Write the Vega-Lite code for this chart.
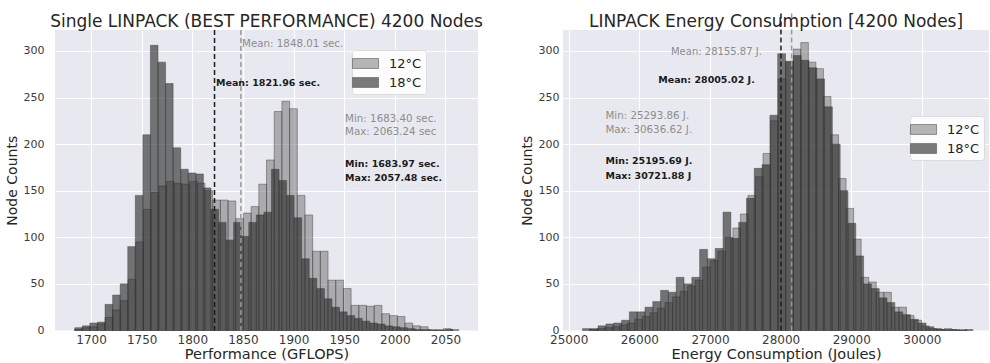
{
  "$schema": "https://vega.github.io/schema/vega-lite/v6.json",
  "background": "white",
  "padding": {"left": 5, "top": 10, "right": 0, "bottom": 0},
  "datasets": {
    "perf": [
      {"t":"12°C","a":1683.40,"b":1691.00,"n":1},{"t":"12°C","a":1691.00,"b":1698.59,"n":3},{"t":"12°C","a":1698.59,"b":1706.19,"n":4},{"t":"12°C","a":1706.19,"b":1713.79,"n":7},{"t":"12°C","a":1713.79,"b":1721.38,"n":14},
      {"t":"12°C","a":1721.38,"b":1728.98,"n":22},{"t":"12°C","a":1728.98,"b":1736.58,"n":32},{"t":"12°C","a":1736.58,"b":1744.17,"n":55},{"t":"12°C","a":1744.17,"b":1751.77,"n":95},{"t":"12°C","a":1751.77,"b":1759.37,"n":130},
      {"t":"12°C","a":1759.37,"b":1766.96,"n":148},{"t":"12°C","a":1766.96,"b":1774.56,"n":155},{"t":"12°C","a":1774.56,"b":1782.16,"n":160},{"t":"12°C","a":1782.16,"b":1789.76,"n":158},{"t":"12°C","a":1789.76,"b":1797.35,"n":157},
      {"t":"12°C","a":1797.35,"b":1804.95,"n":160},{"t":"12°C","a":1804.95,"b":1812.55,"n":158},{"t":"12°C","a":1812.55,"b":1820.14,"n":150},{"t":"12°C","a":1820.14,"b":1827.74,"n":140},{"t":"12°C","a":1827.74,"b":1835.34,"n":140},
      {"t":"12°C","a":1835.34,"b":1842.93,"n":139},{"t":"12°C","a":1842.93,"b":1850.53,"n":120},{"t":"12°C","a":1850.53,"b":1858.13,"n":126},{"t":"12°C","a":1858.13,"b":1865.72,"n":133},{"t":"12°C","a":1865.72,"b":1873.32,"n":157},
      {"t":"12°C","a":1873.32,"b":1880.92,"n":183},{"t":"12°C","a":1880.92,"b":1888.51,"n":235},{"t":"12°C","a":1888.51,"b":1896.11,"n":246},{"t":"12°C","a":1896.11,"b":1903.71,"n":238},{"t":"12°C","a":1903.71,"b":1911.30,"n":145},
      {"t":"12°C","a":1911.30,"b":1918.90,"n":124},{"t":"12°C","a":1918.90,"b":1926.50,"n":85},{"t":"12°C","a":1926.50,"b":1934.09,"n":85},{"t":"12°C","a":1934.09,"b":1941.69,"n":54},{"t":"12°C","a":1941.69,"b":1949.29,"n":54},
      {"t":"12°C","a":1949.29,"b":1956.88,"n":45},{"t":"12°C","a":1956.88,"b":1964.48,"n":27},{"t":"12°C","a":1964.48,"b":1972.08,"n":27},{"t":"12°C","a":1972.08,"b":1979.68,"n":26},{"t":"12°C","a":1979.68,"b":1987.27,"n":27},
      {"t":"12°C","a":1987.27,"b":1994.87,"n":18},{"t":"12°C","a":1994.87,"b":2002.47,"n":16},{"t":"12°C","a":2002.47,"b":2010.06,"n":15},{"t":"12°C","a":2010.06,"b":2017.66,"n":8},{"t":"12°C","a":2017.66,"b":2025.26,"n":5},
      {"t":"12°C","a":2025.26,"b":2032.85,"n":4},{"t":"12°C","a":2032.85,"b":2040.45,"n":1},{"t":"12°C","a":2040.45,"b":2048.05,"n":1},{"t":"12°C","a":2048.05,"b":2055.64,"n":2},{"t":"12°C","a":2055.64,"b":2063.24,"n":1},
      {"t":"18°C","a":1683.97,"b":1691.44,"n":3},{"t":"18°C","a":1691.44,"b":1698.91,"n":5},{"t":"18°C","a":1698.91,"b":1706.38,"n":8},{"t":"18°C","a":1706.38,"b":1713.85,"n":9},{"t":"18°C","a":1713.85,"b":1721.32,"n":28},
      {"t":"18°C","a":1721.32,"b":1728.79,"n":38},{"t":"18°C","a":1728.79,"b":1736.26,"n":50},{"t":"18°C","a":1736.26,"b":1743.73,"n":90},{"t":"18°C","a":1743.73,"b":1751.20,"n":145},{"t":"18°C","a":1751.20,"b":1758.67,"n":210},
      {"t":"18°C","a":1758.67,"b":1766.14,"n":306},{"t":"18°C","a":1766.14,"b":1773.61,"n":288},{"t":"18°C","a":1773.61,"b":1781.08,"n":265},{"t":"18°C","a":1781.08,"b":1788.55,"n":196},{"t":"18°C","a":1788.55,"b":1796.02,"n":173},
      {"t":"18°C","a":1796.02,"b":1803.49,"n":169},{"t":"18°C","a":1803.49,"b":1810.96,"n":168},{"t":"18°C","a":1810.96,"b":1818.43,"n":153},{"t":"18°C","a":1818.43,"b":1825.90,"n":130},{"t":"18°C","a":1825.90,"b":1833.37,"n":116},
      {"t":"18°C","a":1833.37,"b":1840.84,"n":97},{"t":"18°C","a":1840.84,"b":1848.31,"n":116},{"t":"18°C","a":1848.31,"b":1855.78,"n":101},{"t":"18°C","a":1855.78,"b":1863.25,"n":116},{"t":"18°C","a":1863.25,"b":1870.73,"n":124},
      {"t":"18°C","a":1870.73,"b":1878.20,"n":127},{"t":"18°C","a":1878.20,"b":1885.67,"n":173},{"t":"18°C","a":1885.67,"b":1893.14,"n":161},{"t":"18°C","a":1893.14,"b":1900.61,"n":145},{"t":"18°C","a":1900.61,"b":1908.08,"n":121},
      {"t":"18°C","a":1908.08,"b":1915.55,"n":77},{"t":"18°C","a":1915.55,"b":1923.02,"n":56},{"t":"18°C","a":1923.02,"b":1930.49,"n":45},{"t":"18°C","a":1930.49,"b":1937.96,"n":34},{"t":"18°C","a":1937.96,"b":1945.43,"n":25},
      {"t":"18°C","a":1945.43,"b":1952.90,"n":20},{"t":"18°C","a":1952.90,"b":1960.37,"n":16},{"t":"18°C","a":1960.37,"b":1967.84,"n":13},{"t":"18°C","a":1967.84,"b":1975.31,"n":10},{"t":"18°C","a":1975.31,"b":1982.78,"n":8},
      {"t":"18°C","a":1982.78,"b":1990.25,"n":7},{"t":"18°C","a":1990.25,"b":1997.72,"n":5},{"t":"18°C","a":1997.72,"b":2005.19,"n":4},{"t":"18°C","a":2005.19,"b":2012.66,"n":3},{"t":"18°C","a":2012.66,"b":2020.13,"n":2},
      {"t":"18°C","a":2020.13,"b":2027.60,"n":1},{"t":"18°C","a":2027.60,"b":2035.07,"n":1},{"t":"18°C","a":2035.07,"b":2042.54,"n":0},{"t":"18°C","a":2042.54,"b":2050.01,"n":0},{"t":"18°C","a":2050.01,"b":2057.48,"n":1}
    ],
    "energy": [
      {"t":"12°C","a":25293.86,"b":25400.72,"n":1},{"t":"12°C","a":25400.72,"b":25507.57,"n":2},{"t":"12°C","a":25507.57,"b":25614.43,"n":3},{"t":"12°C","a":25614.43,"b":25721.28,"n":4},{"t":"12°C","a":25721.28,"b":25828.14,"n":6},
      {"t":"12°C","a":25828.14,"b":25934.99,"n":8},{"t":"12°C","a":25934.99,"b":26041.85,"n":12},{"t":"12°C","a":26041.85,"b":26148.70,"n":15},{"t":"12°C","a":26148.70,"b":26255.56,"n":19},{"t":"12°C","a":26255.56,"b":26362.41,"n":24},
      {"t":"12°C","a":26362.41,"b":26469.27,"n":30},{"t":"12°C","a":26469.27,"b":26576.12,"n":36},{"t":"12°C","a":26576.12,"b":26682.98,"n":42},{"t":"12°C","a":26682.98,"b":26789.83,"n":48},{"t":"12°C","a":26789.83,"b":26896.69,"n":54},
      {"t":"12°C","a":26896.69,"b":27003.54,"n":68},{"t":"12°C","a":27003.54,"b":27110.40,"n":75},{"t":"12°C","a":27110.40,"b":27217.25,"n":85},{"t":"12°C","a":27217.25,"b":27324.11,"n":100},{"t":"12°C","a":27324.11,"b":27430.96,"n":110},
      {"t":"12°C","a":27430.96,"b":27537.82,"n":125},{"t":"12°C","a":27537.82,"b":27644.67,"n":145},{"t":"12°C","a":27644.67,"b":27751.53,"n":165},{"t":"12°C","a":27751.53,"b":27858.38,"n":190},{"t":"12°C","a":27858.38,"b":27965.24,"n":225},
      {"t":"12°C","a":27965.24,"b":28072.09,"n":270},{"t":"12°C","a":28072.09,"b":28178.95,"n":288},{"t":"12°C","a":28178.95,"b":28285.80,"n":302},{"t":"12°C","a":28285.80,"b":28392.66,"n":309},{"t":"12°C","a":28392.66,"b":28499.51,"n":288},
      {"t":"12°C","a":28499.51,"b":28606.37,"n":281},{"t":"12°C","a":28606.37,"b":28713.22,"n":251},{"t":"12°C","a":28713.22,"b":28820.08,"n":210},{"t":"12°C","a":28820.08,"b":28926.93,"n":163},{"t":"12°C","a":28926.93,"b":29033.79,"n":131},
      {"t":"12°C","a":29033.79,"b":29140.64,"n":98},{"t":"12°C","a":29140.64,"b":29247.50,"n":57},{"t":"12°C","a":29247.50,"b":29354.35,"n":52},{"t":"12°C","a":29354.35,"b":29461.21,"n":41},{"t":"12°C","a":29461.21,"b":29568.06,"n":41},
      {"t":"12°C","a":29568.06,"b":29674.92,"n":25},{"t":"12°C","a":29674.92,"b":29781.77,"n":25},{"t":"12°C","a":29781.77,"b":29888.63,"n":16},{"t":"12°C","a":29888.63,"b":29995.48,"n":11},{"t":"12°C","a":29995.48,"b":30102.34,"n":5},
      {"t":"12°C","a":30102.34,"b":30209.19,"n":2},{"t":"12°C","a":30209.19,"b":30316.05,"n":1},{"t":"12°C","a":30316.05,"b":30422.90,"n":2},{"t":"12°C","a":30422.90,"b":30529.76,"n":1},{"t":"12°C","a":30529.76,"b":30636.62,"n":1},
      {"t":"18°C","a":25195.69,"b":25306.21,"n":2},{"t":"18°C","a":25306.21,"b":25416.74,"n":2},{"t":"18°C","a":25416.74,"b":25527.26,"n":5},{"t":"18°C","a":25527.26,"b":25637.79,"n":7},{"t":"18°C","a":25637.79,"b":25748.31,"n":8},
      {"t":"18°C","a":25748.31,"b":25858.83,"n":11},{"t":"18°C","a":25858.83,"b":25969.36,"n":20},{"t":"18°C","a":25969.36,"b":26079.88,"n":20},{"t":"18°C","a":26079.88,"b":26190.40,"n":25},{"t":"18°C","a":26190.40,"b":26300.93,"n":31},
      {"t":"18°C","a":26300.93,"b":26411.45,"n":43},{"t":"18°C","a":26411.45,"b":26521.98,"n":41},{"t":"18°C","a":26521.98,"b":26632.50,"n":57},{"t":"18°C","a":26632.50,"b":26743.02,"n":50},{"t":"18°C","a":26743.02,"b":26853.55,"n":57},
      {"t":"18°C","a":26853.55,"b":26964.07,"n":87},{"t":"18°C","a":26964.07,"b":27074.59,"n":77},{"t":"18°C","a":27074.59,"b":27185.12,"n":88},{"t":"18°C","a":27185.12,"b":27295.64,"n":127},{"t":"18°C","a":27295.64,"b":27406.17,"n":99},
      {"t":"18°C","a":27406.17,"b":27516.69,"n":116},{"t":"18°C","a":27516.69,"b":27627.21,"n":142},{"t":"18°C","a":27627.21,"b":27737.74,"n":174},{"t":"18°C","a":27737.74,"b":27848.26,"n":178},{"t":"18°C","a":27848.26,"b":27958.79,"n":231},
      {"t":"18°C","a":27958.79,"b":28069.31,"n":297},{"t":"18°C","a":28069.31,"b":28179.83,"n":289},{"t":"18°C","a":28179.83,"b":28290.36,"n":295},{"t":"18°C","a":28290.36,"b":28400.88,"n":290},{"t":"18°C","a":28400.88,"b":28511.40,"n":282},
      {"t":"18°C","a":28511.40,"b":28621.93,"n":270},{"t":"18°C","a":28621.93,"b":28732.45,"n":240},{"t":"18°C","a":28732.45,"b":28842.98,"n":200},{"t":"18°C","a":28842.98,"b":28953.50,"n":150},{"t":"18°C","a":28953.50,"b":29064.02,"n":115},
      {"t":"18°C","a":29064.02,"b":29174.55,"n":80},{"t":"18°C","a":29174.55,"b":29285.07,"n":50},{"t":"18°C","a":29285.07,"b":29395.59,"n":45},{"t":"18°C","a":29395.59,"b":29506.12,"n":35},{"t":"18°C","a":29506.12,"b":29616.64,"n":30},
      {"t":"18°C","a":29616.64,"b":29727.17,"n":20},{"t":"18°C","a":29727.17,"b":29837.69,"n":17},{"t":"18°C","a":29837.69,"b":29948.21,"n":12},{"t":"18°C","a":29948.21,"b":30058.74,"n":8},{"t":"18°C","a":30058.74,"b":30169.26,"n":4},
      {"t":"18°C","a":30169.26,"b":30279.79,"n":2},{"t":"18°C","a":30279.79,"b":30390.31,"n":1},{"t":"18°C","a":30390.31,"b":30500.83,"n":1},{"t":"18°C","a":30500.83,"b":30611.36,"n":0},{"t":"18°C","a":30611.36,"b":30721.88,"n":1}
    ]
  },
  "hconcat": [
    {
      "width": 423,
      "height": 300.5,
      "title": {"text": "Single LINPACK (BEST PERFORMANCE) 4200 Nodes", "offset": -2},
      "layer": [
        {
          "data": {"name": "perf"},
          "mark": {"type": "rect", "stroke": "#333333", "strokeWidth": 0.6, "strokeOpacity": 0.7},
          "encoding": {
            "x": {"field": "a", "type": "quantitative", "scale": {"domain": [1664.4, 2082.2], "nice": false, "zero": false},
                  "axis": {"values": [1700, 1750, 1800, 1850, 1900, 1950, 2000, 2050], "format": "d", "title": "Performance (GFLOPS)"}},
            "x2": {"field": "b"},
            "y": {"field": "n", "type": "quantitative", "scale": {"domain": [0, 322.5], "nice": false},
                  "axis": {"values": [0, 50, 100, 150, 200, 250, 300], "title": "Node Counts", "labelPadding": 11}},
            "y2": {"datum": 0},
            "color": {"field": "t", "type": "nominal",
                      "scale": {"domain": ["12°C", "18°C"], "range": ["rgba(110,110,110,0.5)", "rgba(40,40,40,0.62)"]},
                      "legend": {"title": null, "orient": "none", "legendX": 297, "legendY": 20}}
          }
        },
        {
          "data": {"values": [{"a": 1821.96}]},
          "mark": {"type": "rule", "color": "#1a1a1a", "strokeDash": [5, 3], "strokeWidth": 1.5},
          "encoding": {"x": {"field": "a", "type": "quantitative"}}
        },
        {
          "data": {"values": [{"a": 1848.01}]},
          "mark": {"type": "rule", "color": "#9a9a9a", "strokeDash": [5, 3], "strokeWidth": 1.5},
          "encoding": {"x": {"field": "a", "type": "quantitative"}}
        },
        {
          "data": {"values": [
            {"a": 1849.1, "n": 307.8, "label": "Mean: 1848.01 sec."},
            {"a": 1950.9, "n": 227.3, "label": "Min: 1683.40 sec."},
            {"a": 1950.9, "n": 213.0, "label": "Max: 2063.24 sec"}
          ]},
          "mark": {"type": "text", "align": "left", "baseline": "middle", "fontSize": 10.3, "color": "#8c8c8c"},
          "encoding": {"x": {"field": "a", "type": "quantitative"}, "y": {"field": "n", "type": "quantitative"}, "text": {"field": "label"}}
        },
        {
          "data": {"values": [
            {"a": 1823.4, "n": 265.6, "label": "Mean: 1821.96 sec."},
            {"a": 1950.9, "n": 179.0, "label": "Min: 1683.97 sec."},
            {"a": 1950.9, "n": 164.0, "label": "Max: 2057.48 sec."}
          ]},
          "mark": {"type": "text", "align": "left", "baseline": "middle", "fontSize": 9.5, "fontWeight": "bold", "color": "#1a1a1a"},
          "encoding": {"x": {"field": "a", "type": "quantitative"}, "y": {"field": "n", "type": "quantitative"}, "text": {"field": "label"}}
        }
      ]
    },
    {
      "width": 426,
      "height": 300.5,
      "title": {"text": "LINPACK Energy Consumption [4200 Nodes]", "offset": -21},
      "layer": [
        {
          "data": {"name": "energy"},
          "mark": {"type": "rect", "stroke": "#333333", "strokeWidth": 0.6, "strokeOpacity": 0.7},
          "encoding": {
            "x": {"field": "a", "type": "quantitative", "scale": {"domain": [24919.4, 30950], "nice": false, "zero": false},
                  "axis": {"values": [25000, 26000, 27000, 28000, 29000, 30000], "format": "d", "title": "Energy Consumption (Joules)"}},
            "x2": {"field": "b"},
            "y": {"field": "n", "type": "quantitative", "scale": {"domain": [0, 322.5], "nice": false},
                  "axis": {"values": [0, 50, 100, 150, 200, 250, 300], "title": "Node Counts", "labelPadding": 4}},
            "y2": {"datum": 0},
            "color": {"field": "t", "type": "nominal",
                      "scale": {"domain": ["12°C", "18°C"], "range": ["rgba(110,110,110,0.5)", "rgba(40,40,40,0.62)"]},
                      "legend": {"title": null, "orient": "none", "legendX": 347, "legendY": 86}}
          }
        },
        {
          "data": {"values": [{"a": 28005.02}]},
          "mark": {"type": "rule", "color": "#1a1a1a", "strokeDash": [5, 3], "strokeWidth": 1.5},
          "encoding": {"x": {"field": "a", "type": "quantitative"}, "y": {"datum": 0}, "y2": {"datum": 343}}
        },
        {
          "data": {"values": [{"a": 28155.87}]},
          "mark": {"type": "rule", "color": "#9a9a9a", "strokeDash": [5, 3], "strokeWidth": 1.5},
          "encoding": {"x": {"field": "a", "type": "quantitative"}, "y": {"datum": 0}, "y2": {"datum": 343}}
        },
        {
          "data": {"values": [
            {"a": 27734, "n": 298.9, "label": "Mean: 28155.87 J."}
          ]},
          "mark": {"type": "text", "align": "right", "baseline": "middle", "fontSize": 10, "color": "#8c8c8c"},
          "encoding": {"x": {"field": "a", "type": "quantitative"}, "y": {"field": "n", "type": "quantitative"}, "text": {"field": "label"}}
        },
        {
          "data": {"values": [
            {"a": 25520, "n": 230.2, "label": "Min: 25293.86 J."},
            {"a": 25520, "n": 214.9, "label": "Max: 30636.62 J."}
          ]},
          "mark": {"type": "text", "align": "left", "baseline": "middle", "fontSize": 10.3, "color": "#8c8c8c"},
          "encoding": {"x": {"field": "a", "type": "quantitative"}, "y": {"field": "n", "type": "quantitative"}, "text": {"field": "label"}}
        },
        {
          "data": {"values": [
            {"a": 27634, "n": 268.9, "label": "Mean: 28005.02 J."}
          ]},
          "mark": {"type": "text", "align": "right", "baseline": "middle", "fontSize": 9.5, "fontWeight": "bold", "color": "#1a1a1a"},
          "encoding": {"x": {"field": "a", "type": "quantitative"}, "y": {"field": "n", "type": "quantitative"}, "text": {"field": "label"}}
        },
        {
          "data": {"values": [
            {"a": 25520, "n": 181.6, "label": "Min: 25195.69 J."},
            {"a": 25520, "n": 165.8, "label": "Max: 30721.88 J"}
          ]},
          "mark": {"type": "text", "align": "left", "baseline": "middle", "fontSize": 9.5, "fontWeight": "bold", "color": "#1a1a1a"},
          "encoding": {"x": {"field": "a", "type": "quantitative"}, "y": {"field": "n", "type": "quantitative"}, "text": {"field": "label"}}
        }
      ]
    }
  ],
  "spacing": 37,
  "resolve": {"scale": {"color": "independent", "x": "independent", "y": "independent"}, "legend": {"color": "independent"}},
  "config": {
    "font": "DejaVu Sans",
    "view": {"fill": "#E8E9F0", "stroke": null},
    "title": {"fontSize": 17, "fontWeight": "normal", "color": "#262626", "font": "DejaVu Sans"},
    "axis": {"grid": true, "gridColor": "#ffffff", "gridWidth": 1.1, "domain": false, "ticks": false, "tickSize": 0,
             "labelFont": "DejaVu Sans", "labelFontSize": 11, "labelColor": "#3a3a3a",
             "titleFont": "DejaVu Sans", "titleFontSize": 14, "titleFontWeight": "normal", "titleColor": "#262626", "titlePadding": 4},
    "axisX": {"labelPadding": 4, "titlePadding": 2, "labelFontSize": 12, "titleFontSize": 14.5},
    "legend": {"fillColor": "rgba(255,255,255,0.85)", "strokeColor": "#dcdcdc", "cornerRadius": 3, "padding": 4,
               "symbolType": "M-1.45,-0.55H1.45V0.55H-1.45Z", "symbolSize": 324, "symbolStrokeColor": "#555555", "symbolStrokeWidth": 0.6,
               "labelFontSize": 13, "labelColor": "#222222", "labelOffset": 14, "rowPadding": 2, "labelFont": "DejaVu Sans"}
  }
}
